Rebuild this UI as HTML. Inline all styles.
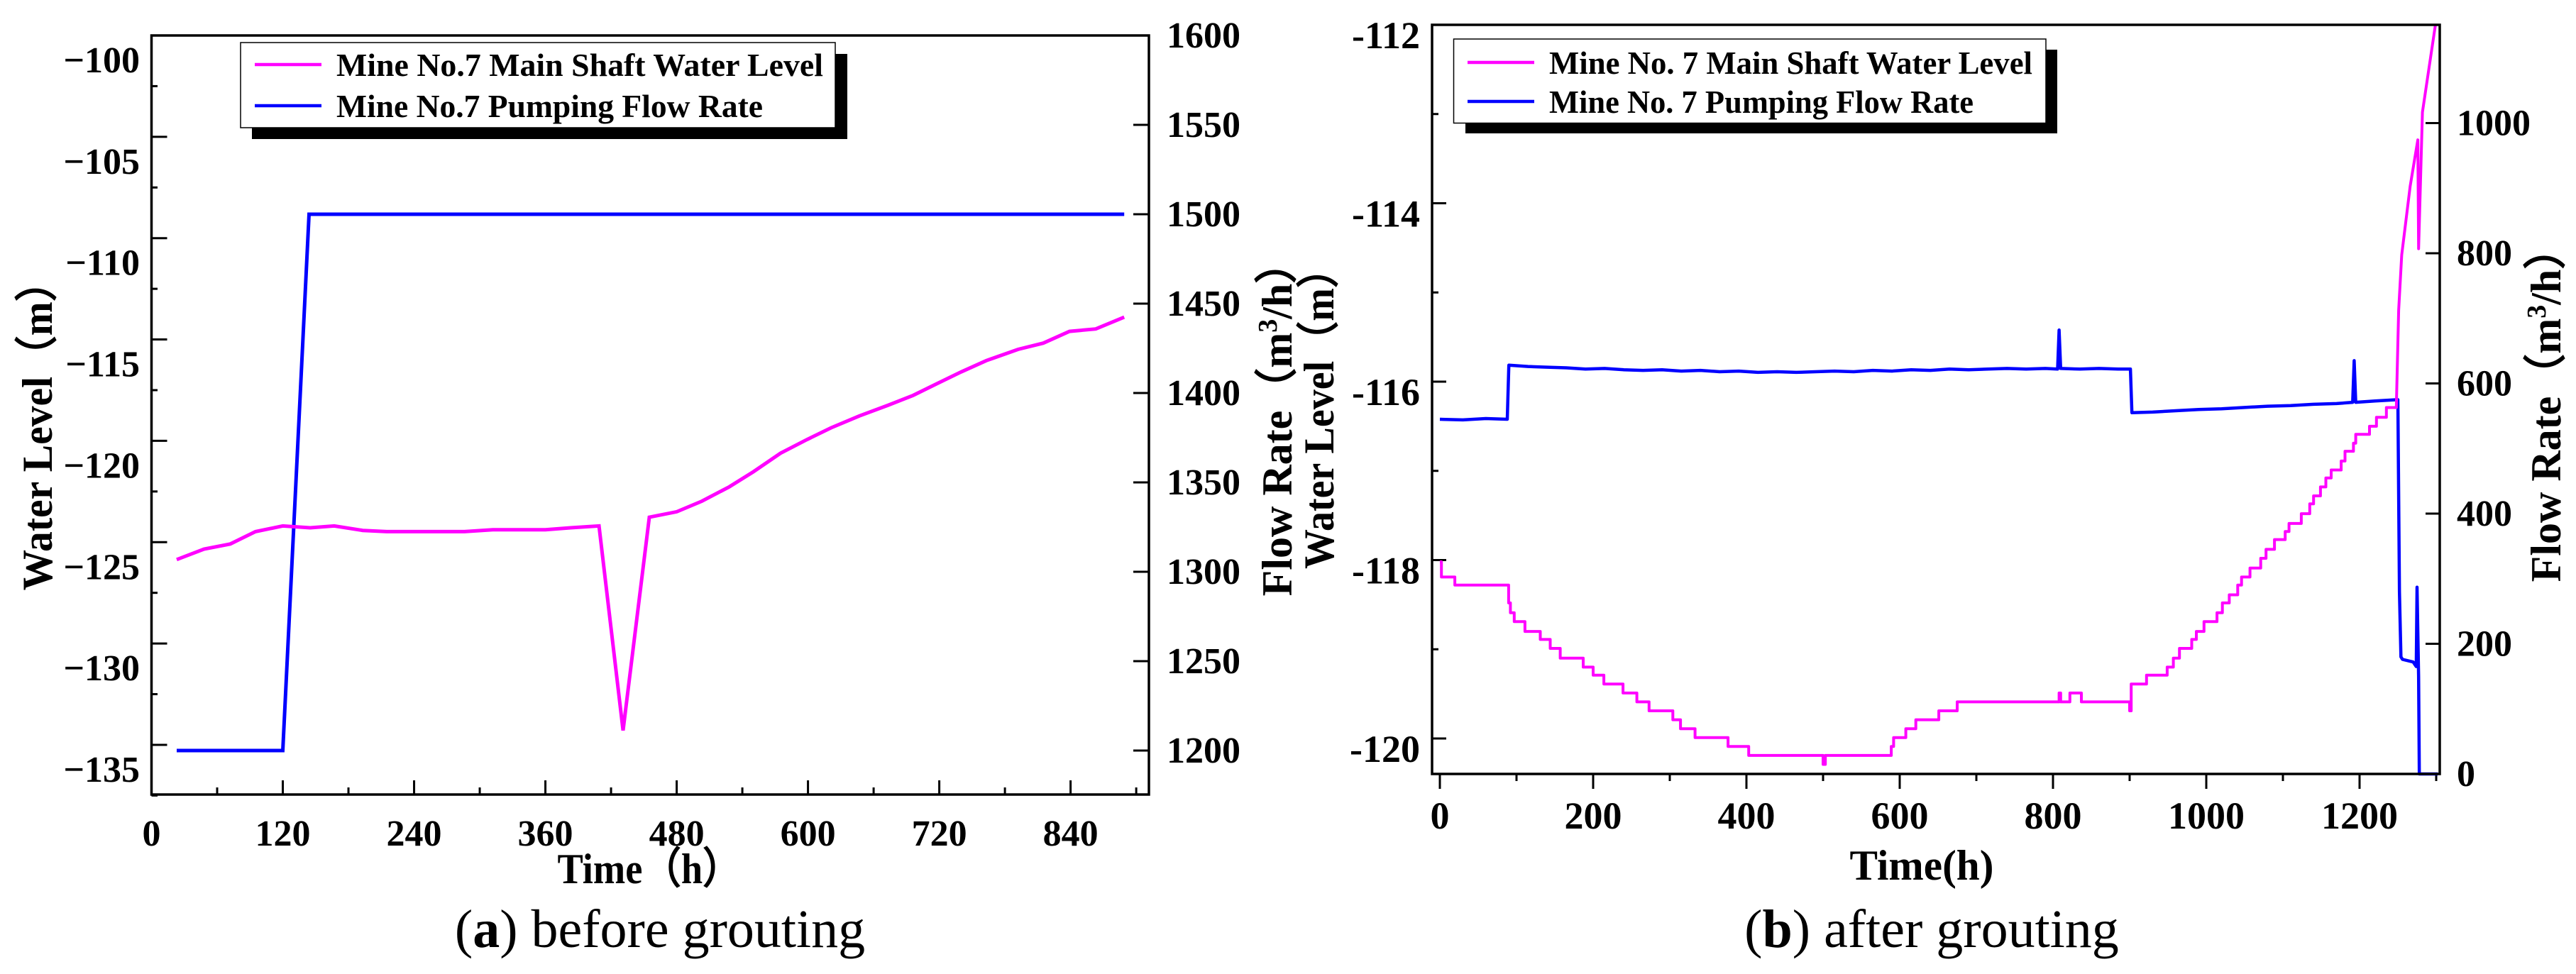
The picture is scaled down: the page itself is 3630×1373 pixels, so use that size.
<!DOCTYPE html>
<html><head><meta charset="utf-8"><style>
html,body{margin:0;padding:0;background:#fff;}
svg{display:block;font-family:"Liberation Serif",serif;}
</style></head><body>
<svg id="fig" width="3630" height="1373" viewBox="0 0 3630 1373"></svg>
<script>
// ---- Chart (a) data ----
const aLevelT = [23,48,72,95,120,145,167,193,215,286,312,360,383,409,431,455,480,503,528,550,575,599,621,647,673,696,718,740,763,792,815,839,863,889];
const aLevelV = [-125.86,-125.34,-125.09,-124.48,-124.20,-124.29,-124.20,-124.42,-124.48,-124.48,-124.39,-124.39,-124.29,-124.20,-134.29,-123.77,-123.50,-122.98,-122.27,-121.53,-120.61,-119.94,-119.36,-118.77,-118.25,-117.76,-117.18,-116.60,-116.04,-115.49,-115.18,-114.60,-114.48,-113.90];
const aFlowT = [23,120,144,889];
const aFlowV = [1200,1200,1500,1500];
const aXTicks = [0,120,240,360,480,600,720,840];
const aLTicks = [-100,-105,-110,-115,-120,-125,-130,-135];
const aRTicks = [1600,1550,1500,1450,1400,1350,1300,1250,1200];
// ---- Chart (b) data ----
const bLevelT = [0,2,19.5,89.7,92,97,111,131,144,157,187,200,214,239,257,273,304,314,333,376,403,432,500,503,510,589,592,608,621,651,675,703,808,810,822,837,900,902,905,922,949,957,965,981,987,997,1014,1021,1030,1041,1046,1057,1071,1078,1089,1103,1108,1124,1135,1140,1149,1156,1163,1176,1181,1192,1195,1213,1222,1235,1248,1251,1255,1266,1276,1277,1282,1299];
const bLevelV = [-118.02,-118.19,-118.28,-118.48,-118.59,-118.69,-118.80,-118.89,-118.99,-119.10,-119.20,-119.29,-119.39,-119.49,-119.59,-119.69,-119.79,-119.89,-119.99,-120.09,-120.19,-120.19,-120.29,-120.19,-120.19,-120.09,-119.99,-119.89,-119.79,-119.69,-119.59,-119.59,-119.49,-119.59,-119.49,-119.59,-119.69,-119.39,-119.39,-119.29,-119.20,-119.10,-118.99,-118.89,-118.80,-118.69,-118.59,-118.48,-118.39,-118.28,-118.19,-118.09,-117.98,-117.88,-117.77,-117.68,-117.59,-117.48,-117.37,-117.28,-117.18,-117.08,-116.99,-116.89,-116.78,-116.69,-116.59,-116.50,-116.40,-116.29,-116.29,-115.20,-114.58,-113.81,-113.29,-114.51,-112.98,-112.00];
const bFlowT = [0,30,60,88,90,115,140,165,190,215,240,265,290,315,340,365,390,415,440,465,490,515,540,565,590,615,640,665,690,715,740,765,790,806,808,810,835,860,885,901,903,930,960,990,1020,1050,1080,1110,1140,1170,1191,1193,1195,1220,1250,1252,1254,1256,1270,1274,1275,1277,1278,1302];
const bFlowV = [545,544,546,545,628,626,625,624,622,623,621,620,621,619,620,618,619,617,618,617,618,619,618,620,619,621,620,622,621,622,623,622,623,622,682,623,622,623,622,622,555,556,558,560,561,563,565,566,568,569,571,635,571,573,575,280,180,176,172,165,287,150,0,0];
const bXTicks = [0,200,400,600,800,1000,1200];
const bLTicks = [-112,-114,-116,-118,-120];
const bRTicks = [0,200,400,600,800,1000];

const NS='http://www.w3.org/2000/svg';
const svg=document.getElementById('fig');
function mk(tag,attrs,parent){const e=document.createElementNS(NS,tag);for(const k in attrs)e.setAttribute(k,attrs[k]);(parent||svg).appendChild(e);return e;}
function txt(s,attrs,parent){const e=mk('text',attrs,parent);e.textContent=s;return e;}

const xA=t=>213.5+t*1.5418;
const yAL=v=>50+(-100-v)*28.57;
const yAR=f=>50+(1600-f)*2.52;
const xB=t=>2029+t*1.08;
const yBL=v=>35+(-112-v)*125.75;
const yBR=f=>1091-f*0.9175;

function polyPts(T,V,fx,fy){return T.map((t,i)=>fx(t).toFixed(1)+','+fy(V[i]).toFixed(1)).join(' ');}

// ===== Chart A =====
const gA=mk('g',{});


aLTicks.forEach(v=>{const y=yAL(v);
  const t=mk('line',{x1:213.5,x2:235.5,y1:y,y2:y,stroke:'#000','stroke-width':3},gA);
  
  const m=mk('line',{x1:213.5,x2:222,y1:yAL(v-2.5),y2:yAL(v-2.5),stroke:'#000','stroke-width':3},gA);
  
  const l=txt(String(v).replace('-','\u2212'),{x:197,y:y+52,'text-anchor':'end','font-size':52,'font-weight':'bold'},gA);
  
});
aRTicks.forEach(f=>{const y=yAR(f);
  const t=mk('line',{x1:1597,x2:1619,y1:y,y2:y,stroke:'#000','stroke-width':3},gA);
  
  const l=txt(String(f),{x:1644,y:y+17,'font-size':52,'font-weight':'bold'},gA);
  
});
aXTicks.forEach(t0=>{const x=xA(t0);
  const t=mk('line',{x1:x,x2:x,y1:1120,y2:1100,stroke:'#000','stroke-width':3},gA);
  
  const m=mk('line',{x1:xA(t0+60),x2:xA(t0+60),y1:1120,y2:1110,stroke:'#000','stroke-width':3},gA);
  
  const l=txt(String(t0),{x:x,y:1192,'text-anchor':'middle','font-size':52,'font-weight':'bold'},gA);
  
});
const fa=mk('polyline',{points:polyPts(aFlowT,aFlowV,xA,yAR),fill:'none',stroke:'#0000ff','stroke-width':5},gA);

const la=mk('polyline',{points:polyPts(aLevelT,aLevelV,xA,yAL),fill:'none',stroke:'#ff00ff','stroke-width':5},gA);

const boxA=mk('rect',{x:213.5,y:50,width:1405.5,height:1070,fill:'none',stroke:'#000','stroke-width':3.5},gA);

const lgA=mk('g',{},gA);

mk('rect',{x:355,y:76,width:839,height:120,fill:'#000'},lgA);
mk('rect',{x:339,y:60,width:838,height:120,fill:'#fff',stroke:'#000','stroke-width':1.5},lgA);
mk('line',{x1:359,x2:453,y1:91,y2:91,stroke:'#ff00ff','stroke-width':4.5},lgA);
mk('line',{x1:359,x2:453,y1:149,y2:149,stroke:'#0000ff','stroke-width':4.5},lgA);
const le1=txt('Mine No.7 Main Shaft Water Level',{x:474,y:107,'font-size':46,'font-weight':'bold',textLength:686,lengthAdjust:'spacingAndGlyphs'},lgA);

const le2=txt('Mine No.7 Pumping Flow Rate',{x:474,y:165,'font-size':46,'font-weight':'bold',textLength:601,lengthAdjust:'spacingAndGlyphs'},lgA);

const xtA=txt('Time（h）',{x:915,y:1245,'text-anchor':'middle','font-size':60,'font-weight':'bold',textLength:259,lengthAdjust:'spacingAndGlyphs'},gA);

const ytA=txt('Water Level（m）',{x:0,y:0,'text-anchor':'middle','font-size':60,'font-weight':'bold',transform:'translate(73,600) rotate(-90)',textLength:465,lengthAdjust:'spacingAndGlyphs'},gA);

const rtA=mk('text',{x:0,y:0,'text-anchor':'middle','font-size':60,'font-weight':'bold',transform:'translate(1820,590) rotate(-90)'},gA);

rtA.innerHTML='Flow Rate（m<tspan baseline-shift="super" font-size="38">3</tspan>/h）';
const capA=mk('text',{x:930,y:1335,'text-anchor':'middle','font-size':76},gA);

capA.innerHTML='(<tspan font-weight="bold">a</tspan>) before grouting';

// ===== Chart B =====
const gB=mk('g',{});


bLTicks.forEach(v=>{const y=yBL(v);
  const t=mk('line',{x1:2018,x2:2038,y1:y,y2:y,stroke:'#000','stroke-width':3},gB);
  
  if(v>-120){const m=mk('line',{x1:2018,x2:2027,y1:yBL(v-1),y2:yBL(v-1),stroke:'#000','stroke-width':3},gB);
  }
  const l=txt(String(v),{x:2001,y:y+33,'text-anchor':'end','font-size':54,'font-weight':'bold'},gB);
  
});
bRTicks.forEach(f=>{const y=yBR(f);
  const t=mk('line',{x1:3418,x2:3438,y1:y,y2:y,stroke:'#000','stroke-width':3},gB);
  
  const l=txt(String(f),{x:3462,y:y+17,'font-size':52,'font-weight':'bold'},gB);
  
});
bXTicks.forEach(t0=>{const x=xB(t0);
  const t=mk('line',{x1:x,x2:x,y1:1091,y2:1112,stroke:'#000','stroke-width':3},gB);
  
  const m=mk('line',{x1:xB(t0+100),x2:xB(t0+100),y1:1091,y2:1101,stroke:'#000','stroke-width':3},gB);
  
  const l=txt(String(t0),{x:x,y:1168,'text-anchor':'middle','font-size':54,'font-weight':'bold'},gB);
  
});
// stepped up to 1248 h, then direct line segments for the final rapid rise
function stepPts(T,V,fx,fy){let p=[];for(let i=0;i<T.length;i++){if(i>0&&T[i]<=1248)p.push(fx(T[i]).toFixed(1)+','+fy(V[i-1]).toFixed(1));p.push(fx(T[i]).toFixed(1)+','+fy(V[i]).toFixed(1));}return p.join(' ');}
const fb=mk('polyline',{points:polyPts(bFlowT,bFlowV,xB,yBR),fill:'none',stroke:'#0000ff','stroke-width':4.5,'stroke-linejoin':'round'},gB);

const lb=mk('polyline',{points:stepPts(bLevelT,bLevelV,xB,yBL),fill:'none',stroke:'#ff00ff','stroke-width':4,'stroke-linejoin':'round'},gB);

const boxB=mk('rect',{x:2018,y:35,width:1420,height:1056,fill:'none',stroke:'#000','stroke-width':3.5},gB);

const lgB=mk('g',{},gB);

mk('rect',{x:2065,y:70,width:834,height:118,fill:'#000'},lgB);
mk('rect',{x:2048.5,y:55,width:834.5,height:118.5,fill:'#fff',stroke:'#000','stroke-width':1.5},lgB);
mk('line',{x1:2068,x2:2162,y1:88,y2:88,stroke:'#ff00ff','stroke-width':4.5},lgB);
mk('line',{x1:2068,x2:2162,y1:143,y2:143,stroke:'#0000ff','stroke-width':4.5},lgB);
const lb1=txt('Mine No. 7 Main Shaft Water Level',{x:2183,y:104,'font-size':46,'font-weight':'bold',textLength:681,lengthAdjust:'spacingAndGlyphs'},lgB);

const lb2=txt('Mine No. 7 Pumping Flow Rate',{x:2183,y:159,'font-size':46,'font-weight':'bold',textLength:598,lengthAdjust:'spacingAndGlyphs'},lgB);

const xtB=txt('Time(h)',{x:2708,y:1240,'text-anchor':'middle','font-size':60,'font-weight':'bold',textLength:203,lengthAdjust:'spacingAndGlyphs'},gB);

const ytB=txt('Water Level（m）',{x:0,y:0,'text-anchor':'middle','font-size':60,'font-weight':'bold',transform:'translate(1879,576) rotate(-90)',textLength:452,lengthAdjust:'spacingAndGlyphs'},gB);

const rtB=mk('text',{x:0,y:0,'text-anchor':'middle','font-size':60,'font-weight':'bold',transform:'translate(3608,570) rotate(-90)'},gB);

rtB.innerHTML='Flow Rate（m<tspan baseline-shift="super" font-size="38">3</tspan>/h）';
const capB=mk('text',{x:2722,y:1335,'text-anchor':'middle','font-size':76},gB);

capB.innerHTML='(<tspan font-weight="bold">b</tspan>) after grouting';
</script>
</body></html>
